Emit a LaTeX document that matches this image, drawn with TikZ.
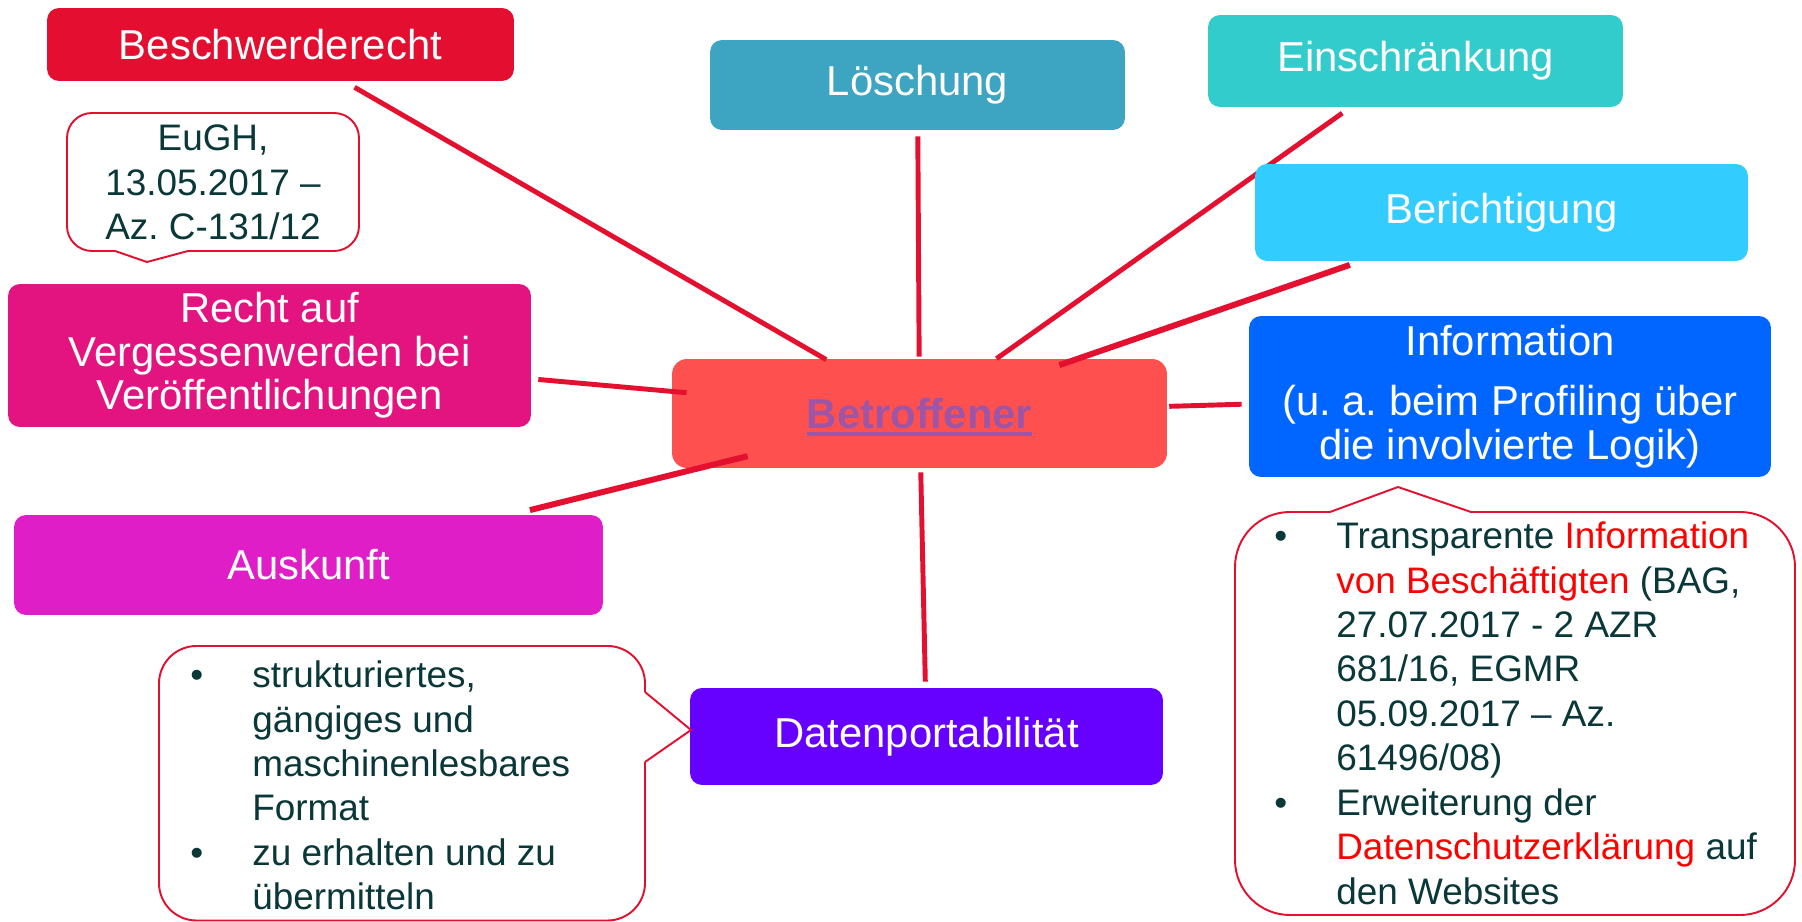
\documentclass[tikz,border=0pt]{standalone}
\usepackage{fontspec}
\setmainfont{Liberation Sans}
\frenchspacing

\definecolor{linkred}{RGB}{227,16,48}
\definecolor{colBeschwerde}{RGB}{227,14,48}
\definecolor{colLoeschung}{RGB}{61,164,194}
\definecolor{colEinschr}{RGB}{51,204,204}
\definecolor{colBericht}{RGB}{51,204,255}
\definecolor{colInfo}{RGB}{0,102,255}
\definecolor{colBetroffen}{RGB}{255,80,80}
\definecolor{colRecht}{RGB}{227,20,127}
\definecolor{colAuskunft}{RGB}{224,30,200}
\definecolor{colDaten}{RGB}{102,0,255}
\definecolor{notegreen}{RGB}{10,55,55}
\definecolor{betroffentext}{RGB}{158,85,166}

\newcommand{\lblfont}{\fontsize{23.8}{24.7}\selectfont}
\newcommand{\notefont}{\fontsize{21}{25.3}\selectfont}
\newcommand{\thickul}[1]{\setbox0=\hbox{#1}\rlap{\smash{\rule[-4.5pt]{\wd0}{2.3pt}}}\box0}

\pgfdeclarelayer{back}
\pgfsetlayers{back,main}

\tikzset{
  box/.style={rounded corners=0.24cm, inner sep=0pt, text=white, align=center, font=\lblfont},
  link/.style={draw=linkred, line width=2.8pt},
  note/.style={draw=linkred, line width=1.1pt, fill=white},
  notetext/.style={inner sep=0pt, text=notegreen, align=left, font=\notefont}
}

\begin{document}
\begin{tikzpicture}[x=0.02cm, y=0.02cm]
\useasboundingbox (0,0) rectangle (1802,921);

% outer boxes
\node[box, fill=colBeschwerde, minimum width=9.34cm, minimum height=1.46cm] (beschwerde) at (280.5,876.5) {Beschwerderecht};
\node[box, fill=colLoeschung, minimum width=8.3cm, minimum height=1.8cm] (loeschung) at (917.5,836) {Löschung};
\node[box, fill=colEinschr, minimum width=8.3cm, minimum height=1.84cm] (einschr) at (1415.5,860) {Einschränkung};
\node[box, fill=colBericht, minimum width=9.86cm, minimum height=1.94cm] (bericht) at (1501.5,708.5) {Berichtigung};
\node[box, fill=colInfo, minimum width=10.44cm, minimum height=3.22cm, font=\fontsize{23.8}{24.9}\selectfont] (info) at (1510,524.5) {Information\\[9.6pt](u. a. beim Profiling über\\die involvierte Logik)};
\node[box, fill=colRecht, minimum width=10.46cm, minimum height=2.86cm] (recht) at (269.5,565.5) {Recht auf\\Vergessenwerden bei\\Veröffentlichungen};
\node[box, fill=colAuskunft, minimum width=11.78cm, minimum height=2.0cm] (auskunft) at (308.5,356) {Auskunft};
\node[box, fill=colDaten, minimum width=9.46cm, minimum height=1.94cm] (daten) at (926.5,184.5) {Datenportabilität};

% callouts
\filldraw[note, rounded corners=0.5cm] (115,670) -- (67,670) -- (67,808) -- (359,808) -- (359,670) -- (188,670);
\fill[white] (188,670) -- (147,659) -- (115,670) -- cycle;
\draw[linkred, line width=1.1pt] (188,670) -- (147,659) -- (115,670);
\node[notetext, align=center, anchor=north] (eughnote) at (213,796.5) {EuGH,\\13.05.2017 –\\Az. C-131/12};

\filldraw[note, rounded corners=0.75cm] (645,229) -- (645,275) -- (159,275) -- (159,0.5) -- (645,0.5) -- (645,159);
\fill[white] (645,159) -- (691,191) -- (645,229) -- cycle;
\draw[linkred, line width=1.1pt] (645,159) -- (691,191) -- (645,229);
\node[notetext, anchor=north west] (portnote) at (190,260.5) {\makebox[1.24cm][l]{•}strukturiertes,\\
\hspace*{1.24cm}gängiges und\\
\hspace*{1.24cm}maschinenlesbares\\
\hspace*{1.24cm}Format\\
\makebox[1.24cm][l]{•}zu erhalten und zu\\
\hspace*{1.24cm}übermitteln};

\filldraw[note, rounded corners=1.1cm] (1471,409) -- (1795,409) -- (1795,6) -- (1235,6) -- (1235,409) -- (1330,409);
\fill[white] (1330,409) -- (1398,434) -- (1471,409) -- cycle;
\draw[linkred, line width=1.1pt] (1330,409) -- (1398,434) -- (1471,409);
\node[notetext, anchor=north west] (infonote) at (1274,399.5) {\makebox[1.24cm][l]{•}Transparente \textcolor{red}{Information}\\
\hspace*{1.24cm}\textcolor{red}{von Beschäftigten} (BAG,\\
\hspace*{1.24cm}27.07.2017 - 2 AZR\\
\hspace*{1.24cm}681/16, EGMR\\
\hspace*{1.24cm}05.09.2017 – Az.\\
\hspace*{1.24cm}61496/08)\\
\makebox[1.24cm][l]{•}Erweiterung der\\
\hspace*{1.24cm}\textcolor{red}{Datenschutzerklärung} auf\\
\hspace*{1.24cm}den Websites};

% centre and connectors
\begin{pgfonlayer}{back}
\node[box, fill=colBetroffen, rounded corners=0.3cm, minimum width=9.9cm, minimum height=2.18cm, text=betroffentext, font=\fontsize{23.8}{24.7}\selectfont\bfseries] (betroffen) at (919.5,507.5) {\thickul{Betroffener}};
\draw[link, shorten <=6.8pt, shorten >=-1.1pt] (beschwerde) -- (betroffen);
\draw[link, shorten <=3.4pt, shorten >=1.1pt] (loeschung) -- (betroffen);
\draw[link, shorten <=5.7pt] (einschr) -- (betroffen);
\draw[link, line width=3.4pt, shorten <=6.2pt, shorten >=-11.3pt] (bericht) -- (betroffen);
\draw[link, shorten <=4pt, shorten >=1.1pt] (info) -- (betroffen);
\draw[link, shorten <=4pt, shorten >=-8.5pt] (recht) -- (betroffen);
\draw[link, line width=3.4pt, shorten <=10.8pt, shorten >=-28.9pt] (auskunft) -- (betroffen);
\draw[link, shorten <=3.4pt, shorten >=2.3pt] (daten) -- (betroffen);
\end{pgfonlayer}

\end{tikzpicture}
\end{document}
